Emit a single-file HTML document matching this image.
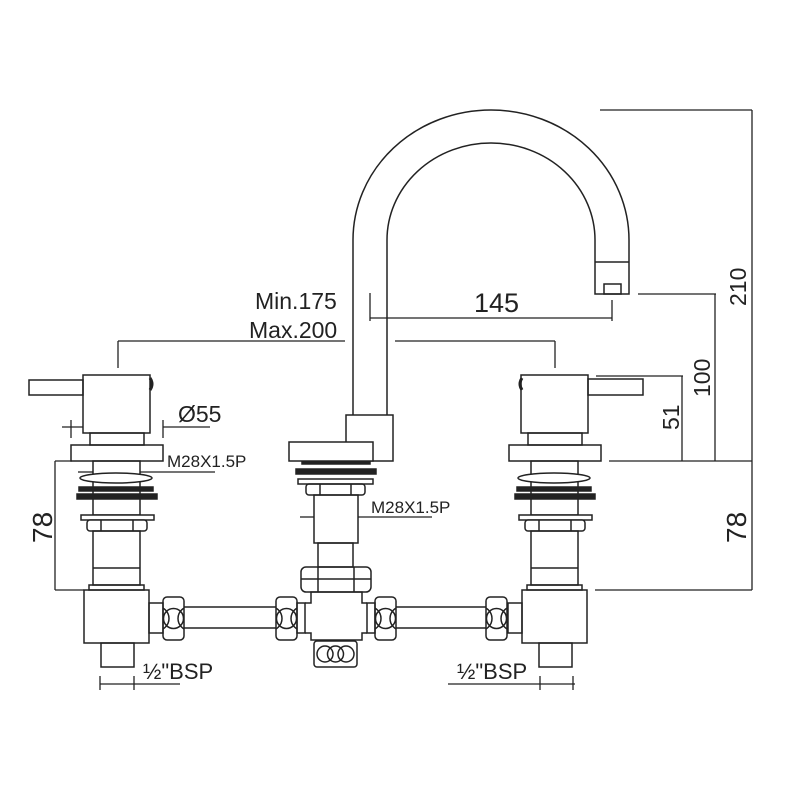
<!DOCTYPE html>
<html><head><style>body{margin:0;background:#fff}svg{display:block}</style></head><body>
<svg width="800" height="800" viewBox="0 0 800 800" xmlns="http://www.w3.org/2000/svg" font-family="Liberation Sans, sans-serif" fill="none" stroke="#222" stroke-width="1.5">
<defs>
<clipPath id="hc"><rect x="0" y="0" width="21" height="43" rx="4"/></clipPath>
<g id="hexv">
<g clip-path="url(#hc)">
<circle cx="10.5" cy="21.5" r="10"/>
<circle cx="-6" cy="21.5" r="12"/><circle cx="27" cy="21.5" r="12"/>
</g>
<rect x="0" y="0" width="21" height="43" rx="4"/>
</g>
<g id="stack">
<rect x="83" y="375" width="67" height="58"/>
<rect x="90" y="433" width="54" height="12"/>
<rect x="71" y="445" width="92" height="16"/>
<rect x="93" y="461" width="47" height="54"/>
<ellipse cx="116" cy="478" rx="36" ry="5" fill="#fff"/>
<rect x="79" y="487" width="74" height="4" fill="#222"/>
<rect x="77" y="494" width="80" height="5" fill="#222"/>
<rect x="81" y="515" width="73" height="5" fill="#fff"/>
<rect x="87" y="520" width="60" height="11" rx="3" fill="#fff"/>
<line x1="101" y1="520" x2="101" y2="531"/><line x1="133" y1="520" x2="133" y2="531"/>
<rect x="93" y="531" width="47" height="54"/>
<line x1="93" y1="568" x2="140" y2="568"/>
<rect x="89" y="585" width="55" height="5"/>
<rect x="84" y="590" width="65" height="53"/>
<rect x="101" y="643" width="33" height="24"/>
</g>
</defs>
<use href="#stack"/>
<rect x="29" y="380" width="54" height="15"/>
<path d="M150 378 q4 6 0 12" stroke-width="3"/>
<rect x="149" y="603" width="14" height="30"/>
<use href="#hexv" x="163" y="597"/>
<use href="#stack" transform="translate(438,0)"/>
<rect x="588" y="379" width="55" height="16"/>
<path d="M522 378 q-4 6 0 12" stroke-width="3"/>
<rect x="508" y="603" width="14" height="30"/>
<use href="#hexv" x="486" y="597"/>
<line x1="184" y1="607" x2="276" y2="607"/><line x1="184" y1="628" x2="276" y2="628"/>
<line x1="396" y1="607" x2="486" y2="607"/><line x1="396" y1="628" x2="486" y2="628"/>
<use href="#hexv" x="276" y="597"/>
<rect x="297" y="603" width="8" height="30"/>
<use href="#hexv" x="375" y="597"/>
<rect x="367" y="603" width="8" height="30"/>
<path d="M305 603 H311 V592 H362 V603 H367 M367 633 H362 V640 H311 V633 H305"/>
<rect x="301" y="567" width="70" height="25" rx="5"/>
<line x1="301" y1="579" x2="371" y2="579"/>
<line x1="318" y1="567" x2="318" y2="592"/><line x1="354" y1="567" x2="354" y2="592"/>
<rect x="314" y="641" width="43" height="26" rx="3"/>
<circle cx="325" cy="654" r="8"/><circle cx="335.5" cy="654" r="8"/><circle cx="346" cy="654" r="8"/>
<rect x="318" y="543" width="35" height="24"/>
<rect x="314" y="495" width="44" height="48"/>
<rect x="306" y="484" width="59" height="11" rx="3"/>
<line x1="320" y1="484" x2="320" y2="495"/><line x1="351" y1="484" x2="351" y2="495"/>
<rect x="298" y="479" width="75" height="5"/>
<rect x="296" y="469" width="80" height="5" fill="#222"/>
<rect x="302" y="461" width="68" height="3" fill="#222"/>
<rect x="346" y="415" width="47" height="46"/>
<rect x="289" y="442" width="84" height="19" fill="#fff"/>
<path d="M353 415 V240 A138 130 0 0 1 629 240 V294 H595 V240 A104 97 0 0 0 387 240 V415"/>
<line x1="595" y1="262" x2="629" y2="262"/>
<rect x="604" y="284" width="17" height="10"/>
<g stroke-width="1.3">
<line x1="600" y1="110" x2="752" y2="110"/>
<line x1="752" y1="110" x2="752" y2="590"/>
<line x1="638" y1="294" x2="716" y2="294"/>
<line x1="715" y1="294" x2="715" y2="461"/>
<line x1="596" y1="376" x2="683" y2="376"/>
<line x1="682" y1="376" x2="682" y2="461"/>
<line x1="609" y1="461" x2="752" y2="461"/>
<line x1="595" y1="590" x2="752" y2="590"/>
<line x1="370" y1="293" x2="370" y2="321"/>
<line x1="370" y1="318" x2="612" y2="318"/>
<line x1="612" y1="300" x2="612" y2="321"/>
<line x1="118" y1="341" x2="345" y2="341"/>
<line x1="118" y1="341" x2="118" y2="368"/>
<line x1="395" y1="341" x2="555" y2="341"/>
<line x1="555" y1="341" x2="555" y2="368"/>
<line x1="55" y1="461" x2="72" y2="461"/>
<line x1="55" y1="461" x2="55" y2="590"/>
<line x1="55" y1="590" x2="84" y2="590"/>
<line x1="62" y1="427" x2="83" y2="427"/><line x1="71" y1="420" x2="71" y2="438"/>
<line x1="163" y1="427" x2="210" y2="427"/><line x1="163" y1="420" x2="163" y2="438"/>
<line x1="78" y1="472" x2="93" y2="472"/><line x1="140" y1="472" x2="215" y2="472"/>
<line x1="300" y1="517" x2="314" y2="517"/><line x1="358" y1="517" x2="432" y2="517"/>
<line x1="100" y1="684" x2="180" y2="684"/><line x1="100" y1="676" x2="100" y2="690"/><line x1="134" y1="676" x2="134" y2="690"/>
<line x1="448" y1="684" x2="575" y2="684"/><line x1="540" y1="676" x2="540" y2="690"/><line x1="573" y1="676" x2="573" y2="690"/>
</g>
<g fill="#222" stroke="none">
<text x="474" y="312" font-size="27">145</text>
<text x="255" y="309" font-size="23">Min.175</text>
<text x="249" y="338" font-size="23">Max.200</text>
<text x="178" y="422" font-size="23">Ø55</text>
<text x="167" y="467" font-size="17">M28X1.5P</text>
<text x="371" y="513" font-size="17">M28X1.5P</text>
<text x="143" y="679" font-size="22">½"BSP</text>
<text x="457" y="679" font-size="22">½"BSP</text>
<text transform="translate(52,543) rotate(-90)" font-size="28">78</text>
<text transform="translate(746,543) rotate(-90)" font-size="28">78</text>
<text transform="translate(746,306) rotate(-90)" font-size="23">210</text>
<text transform="translate(710,397) rotate(-90)" font-size="23">100</text>
<text transform="translate(679,430) rotate(-90)" font-size="23">51</text>
</g>
</svg>
</body></html>
